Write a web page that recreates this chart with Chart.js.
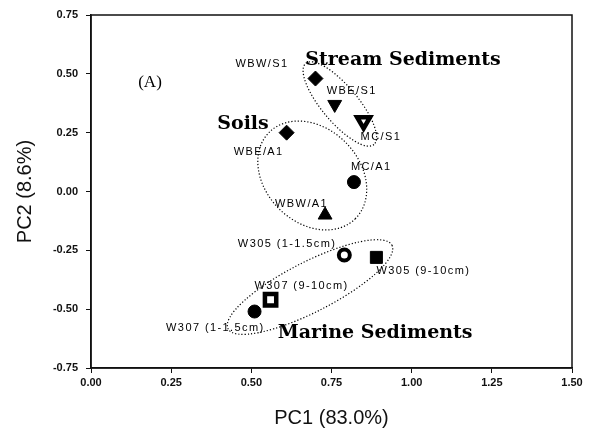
<!DOCTYPE html>
<html>
<head>
<meta charset="utf-8">
<script src="https://cdn.jsdelivr.net/npm/chart.js@4.4.1/dist/chart.umd.min.js"></script>
<style>
  html, body { margin: 0; padding: 0; background: #fff; }
  canvas { display: block; }
</style>
</head>
<body>
<canvas id="pcaChart" width="610" height="439"></canvas>
<script>
// data
const sampleNames = ["WBW/S1", "WBE/S1", "MC/S1", "WBE/A1", "MC/A1", "WBW/A1",
                     "W305 (1-1.5cm)", "W305 (9-10cm)", "W307 (9-10cm)", "W307 (1-1.5cm)"];
const pc1Scores = [0.70, 0.76, 0.85, 0.61, 0.82, 0.73, 0.79, 0.89, 0.56, 0.51];
const pc2Scores = [0.48, 0.37, 0.30, 0.25, 0.04, -0.10, -0.27, -0.28, -0.46, -0.51];

const xTicks = [0, 0.25, 0.5, 0.75, 1.0, 1.25, 1.5];
const yTicks = [-0.75, -0.5, -0.25, 0, 0.25, 0.5, 0.75];

const groupNames = ["Stream Sediments", "Soils", "Marine Sediments"];
const groupCenterX = [0.776, 0.690, 0.683];
const groupCenterY = [0.372, 0.068, -0.406];

// marker look per sample (same order as sampleNames)
const markerStyle = [
   { style: "rectRot", r: 7.5, fill: "#000", bw: 1, rot: 0 },
   { style: "triangle", r: 8, fill: "#000", bw: 1, rot: 180 },
   { style: "triangle", r: 7.5, fill: "#fff", bw: 4.5, rot: 180 },
   { style: "rectRot", r: 7.5, fill: "#000", bw: 1, rot: 0 },
   { style: "circle", r: 6.5, fill: "#000", bw: 1, rot: 0 },
   { style: "triangle", r: 8, fill: "#000", bw: 1, rot: 0 },
   { style: "circle", r: 5.5, fill: "#fff", bw: 4, rot: 0 },
   { style: "rect", r: 8.5, fill: "#000", bw: 1, rot: 0 },
   { style: "rect", r: 8, fill: "#fff", bw: 4.5, rot: 0 },
   { style: "circle", r: 6.5, fill: "#000", bw: 1, rot: 0 },
];

// label offsets in px from the marker
const labelPlace = [
   { dx: -27, dy: -15, align: "right" },
   { dx: -8, dy: -13, align: "left" },
   { dx: -3, dy: 16, align: "left" },
   { dx: -3, dy: 19, align: "right" },
   { dx: -3, dy: -15, align: "left" },
   { dx: 3, dy: -11, align: "right" },
   { dx: -8, dy: -11, align: "right" },
   { dx: 0, dy: 14, align: "left" },
   { dx: -16, dy: -14, align: "left" },
   { dx: 10, dy: 16, align: "right" },
];

// dotted ellipses: radii in px, angle in degrees
const ellipseShape = [
   { a: 53, b: 18, angle: 50 },
   { a: 61, b: 47, angle: 45 },
   { a: 92, b: 25, angle: -27 },
];

// group captions (data coords)
const captionX = [0.973, 0.474, 0.886];
const captionY = [0.559, 0.287, -0.601];

const annotPlugin = {
   id: "annot",
   afterDatasetsDraw(chart) {
      const ctx = chart.ctx;
      const xs = chart.scales.x;
      const ys = chart.scales.y;
      const area = chart.chartArea;

      // frame around plot
      ctx.save();
      ctx.strokeStyle = "#111";
      ctx.lineWidth = 1.5;
      ctx.strokeRect(area.left, area.top, area.right - area.left, area.bottom - area.top);

      // ellipses
      ctx.strokeStyle = "#000";
      ctx.lineWidth = 1.2;
      ctx.setLineDash([1.2, 2]);
      groupNames.forEach((g, i) => {
         const s = ellipseShape[i];
         ctx.beginPath();
         ctx.ellipse(xs.getPixelForValue(groupCenterX[i]), ys.getPixelForValue(groupCenterY[i]),
            s.a, s.b, s.angle * Math.PI / 180, 0, Math.PI * 2);
         ctx.stroke();
      });
      ctx.setLineDash([]);

      // sample labels
      ctx.fillStyle = "#000";
      ctx.font = "11px 'Liberation Sans', Arial, sans-serif";
      ctx.letterSpacing = "1.4px";
      ctx.textBaseline = "middle";
      sampleNames.forEach((name, i) => {
         const p = labelPlace[i];
         ctx.textAlign = p.align;
         ctx.fillText(name, xs.getPixelForValue(pc1Scores[i]) + p.dx, ys.getPixelForValue(pc2Scores[i]) + p.dy);
      });
      ctx.letterSpacing = "0px";

      // group captions
      ctx.font = "bold 19px 'DejaVu Serif', serif";
      ctx.textAlign = "center";
      groupNames.forEach((g, i) => {
         ctx.fillText(g, xs.getPixelForValue(captionX[i]), ys.getPixelForValue(captionY[i]));
      });

      ctx.font = "17px 'Liberation Serif', serif";
      ctx.fillText("(A)", xs.getPixelForValue(0.184), ys.getPixelForValue(0.465));
      ctx.restore();
   },
};

const points = pc1Scores.map((x, i) => ({ x: x, y: pc2Scores[i] }));

new Chart(document.getElementById("pcaChart"), {
   type: "scatter",
   data: {
      datasets: [
         {
            label: "Samples",
            data: points,
            pointStyle: markerStyle.map((m) => m.style),
            pointRadius: markerStyle.map((m) => m.r),
            pointRotation: markerStyle.map((m) => m.rot),
            pointBackgroundColor: markerStyle.map((m) => m.fill),
            pointBorderColor: "#000",
            pointBorderWidth: markerStyle.map((m) => m.bw),
            pointHoverRadius: markerStyle.map((m) => m.r),
         },
      ],
   },
   options: {
      responsive: false,
      animation: false,
      events: [],
      layout: { padding: { top: 15, right: 38, left: 0, bottom: 0 } },
      plugins: { legend: { display: false }, tooltip: { enabled: false } },
      scales: {
         x: {
            type: "linear",
            min: 0,
            max: 1.5,
            afterBuildTicks: (scale) => { scale.ticks = xTicks.map((v) => ({ value: v })); },
            afterFit: (scale) => { scale.height = 71; },
            border: { color: "#111", width: 1.5 },
            grid: { drawOnChartArea: false, drawTicks: true, tickLength: 5, color: "#111" },
            ticks: {
               padding: 3,
               color: "#111",
               font: { family: "'Liberation Sans', Arial, sans-serif", size: 11, weight: "bold" },
               callback: (v) => Number(v).toFixed(2),
            },
            title: {
               display: true,
               text: "PC1 (83.0%)",
               color: "#111",
               font: { family: "'Liberation Sans', Arial, sans-serif", size: 20 },
               padding: { top: 0, bottom: 9 },
            },
         },
         y: {
            type: "linear",
            min: -0.75,
            max: 0.75,
            afterBuildTicks: (scale) => { scale.ticks = yTicks.map((v) => ({ value: v })); },
            afterFit: (scale) => { scale.width = 91; },
            border: { color: "#111", width: 1.5 },
            grid: { drawOnChartArea: false, drawTicks: true, tickLength: 5, color: "#111" },
            ticks: {
               padding: 8,
               color: "#111",
               font: { family: "'Liberation Sans', Arial, sans-serif", size: 11, weight: "bold" },
               callback: (v) => Number(v).toFixed(2),
            },
            title: {
               display: true,
               text: "PC2 (8.6%)",
               color: "#111",
               font: { family: "'Liberation Sans', Arial, sans-serif", size: 20 },
               padding: { top: 13, bottom: 0 },
            },
         },
      },
   },
   plugins: [annotPlugin],
});
</script>
</body>
</html>
